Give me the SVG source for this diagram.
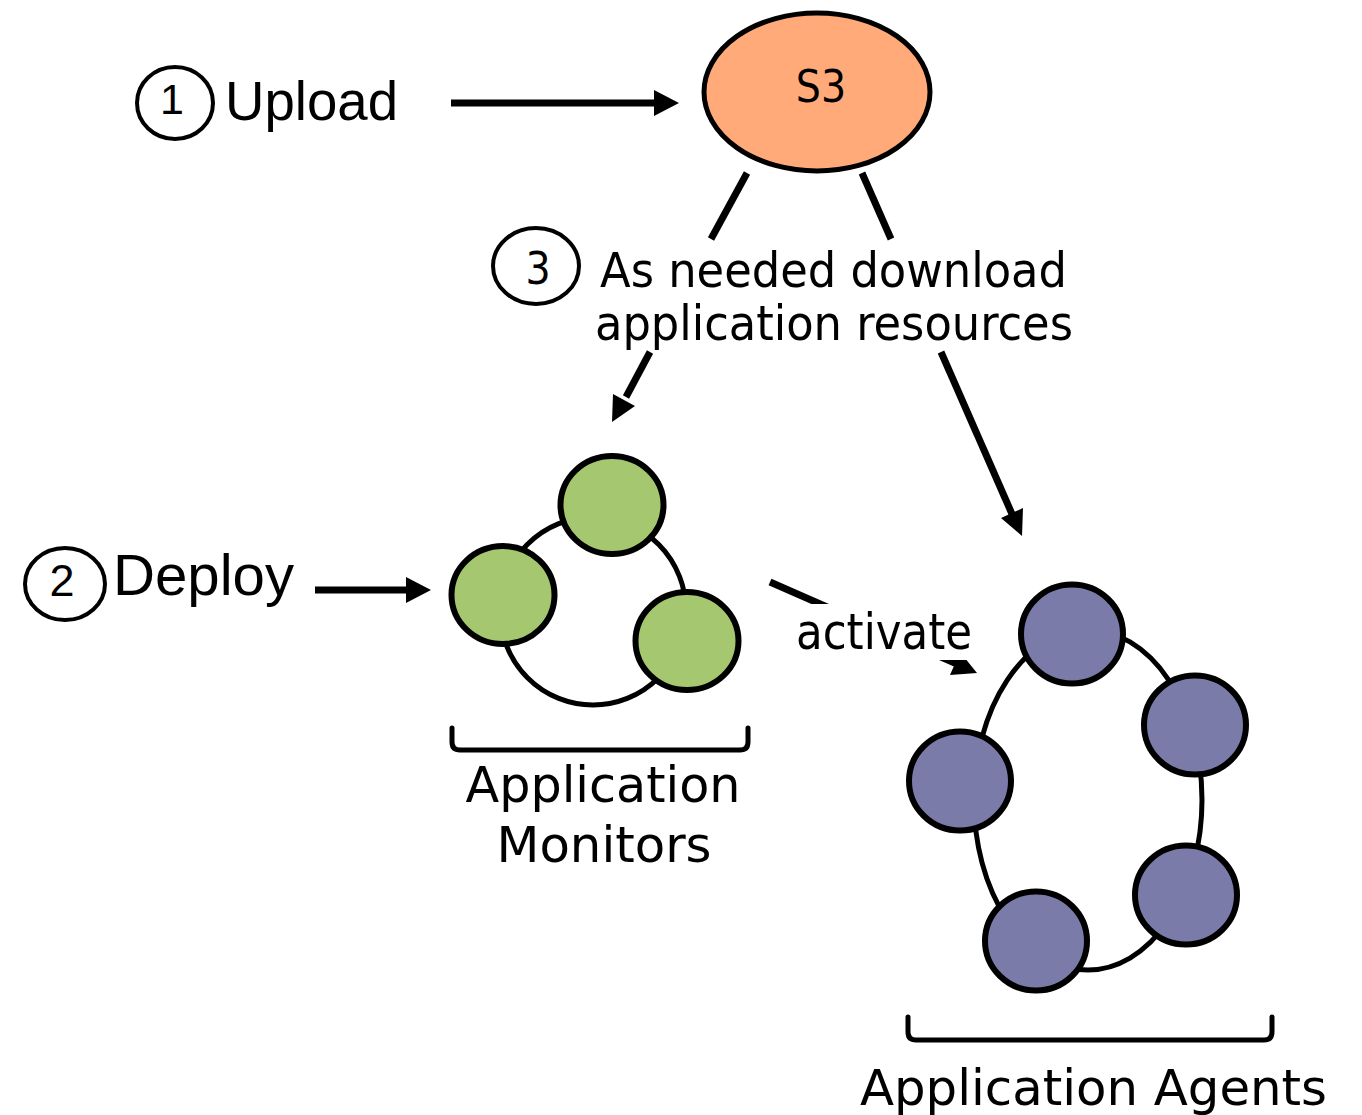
<svg xmlns="http://www.w3.org/2000/svg" width="1362" height="1115" viewBox="0 0 1362 1115">
<style>
.ln{stroke:#000;stroke-width:7;fill:none}
.head{fill:#000}
.num{fill:none;stroke:#000;stroke-width:4}
.ring{fill:none;stroke:#000;stroke-width:5}
.mon{fill:#A5C76F;stroke:#000;stroke-width:6}
.agt{fill:#7A7BA8;stroke:#000;stroke-width:6}
.br{fill:none;stroke:#000;stroke-width:5;stroke-linecap:round}
.a{font-family:"Liberation Sans",Arial,sans-serif;fill:#000}
.d{font-family:"DejaVu Sans Condensed","DejaVu Sans",sans-serif;fill:#000}
</style>
<rect width="1362" height="1115" fill="#fff"/>

<g id="connectors">
  <line class="ln" x1="451" y1="103" x2="656" y2="103"/>
  <polygon class="head" points="679,103 654,90 654,116"/>
  <line class="ln" x1="315" y1="590" x2="408" y2="590"/>
  <polygon class="head" points="431,590 406,577 406,603"/>
  <line class="ln" x1="747" y1="173" x2="711" y2="239"/>
  <line class="ln" x1="650" y1="352" x2="626" y2="397"/>
  <polygon class="head" points="612,422 635,406 613,394"/>
  <line class="ln" x1="862" y1="173" x2="891" y2="239"/>
  <line class="ln" x1="941" y1="352" x2="1012" y2="514"/>
  <polygon class="head" points="1022,536 1023,508 1001,518"/>
  <line class="ln" x1="770" y1="582" x2="957" y2="664"/>
  <polygon class="head" points="977,673 950,675 960,652"/>
  <rect x="790" y="604" width="185" height="56" fill="#fff"/>
  <text class="d" x="796" y="649" font-size="49" textLength="176" lengthAdjust="spacingAndGlyphs">activate</text>
</g>

<g id="step1">
  <ellipse class="num" cx="175" cy="103" rx="38" ry="36"/>
  <text class="a" x="172" y="114" font-size="43" text-anchor="middle">1</text>
  <text class="a" x="225" y="120" font-size="55" textLength="173" lengthAdjust="spacingAndGlyphs">Upload</text>
</g>

<g id="s3">
  <ellipse cx="817" cy="92" rx="113" ry="79" fill="#FFAA78" stroke="#000" stroke-width="5"/>
  <text class="d" x="821" y="102" font-size="44" text-anchor="middle">S3</text>
</g>

<g id="step3">
  <ellipse class="num" cx="536" cy="266" rx="43" ry="38"/>
  <text class="d" x="538" y="284" font-size="44" text-anchor="middle">3</text>
  <text class="d" x="600" y="287" font-size="48" textLength="467" lengthAdjust="spacingAndGlyphs">As needed download</text>
  <text class="d" x="595" y="340" font-size="48" textLength="478" lengthAdjust="spacingAndGlyphs">application resources</text>
</g>

<g id="step2">
  <ellipse class="num" cx="65" cy="584" rx="40" ry="36"/>
  <text class="a" x="62" y="596" font-size="45" text-anchor="middle">2</text>
  <text class="a" x="113" y="595" font-size="58" textLength="181" lengthAdjust="spacingAndGlyphs">Deploy</text>
</g>

<g id="monitors">
  <ellipse class="ring" cx="593" cy="611" rx="93" ry="94"/>
  <ellipse class="mon" cx="612" cy="505" rx="51.5" ry="49"/>
  <ellipse class="mon" cx="503" cy="595" rx="51.5" ry="49"/>
  <ellipse class="mon" cx="687" cy="641" rx="51.5" ry="49"/>
  <path class="br" d="M452,728 L452,742 Q452,750 460,750 L740,750 Q748,750 748,742 L748,728"/>
  <text class="d" x="603" y="802" font-size="50" text-anchor="middle" textLength="275" lengthAdjust="spacingAndGlyphs">Application</text>
  <text class="d" x="604" y="862" font-size="50" text-anchor="middle" textLength="215" lengthAdjust="spacingAndGlyphs">Monitors</text>
</g>

<g id="agents">
  <ellipse class="ring" cx="1088" cy="800" rx="114" ry="170"/>
  <ellipse class="agt" cx="1072" cy="634" rx="51" ry="49.5"/>
  <ellipse class="agt" cx="1195" cy="725" rx="51" ry="49.5"/>
  <ellipse class="agt" cx="960" cy="781" rx="51" ry="49.5"/>
  <ellipse class="agt" cx="1186" cy="895" rx="51" ry="49.5"/>
  <ellipse class="agt" cx="1036" cy="941" rx="51" ry="49.5"/>
  <path class="br" d="M908,1017 L908,1032 Q908,1040 916,1040 L1264,1040 Q1272,1040 1272,1032 L1272,1017"/>
  <text class="d" x="860" y="1105" font-size="50" textLength="467" lengthAdjust="spacingAndGlyphs">Application Agents</text>
</g>
</svg>
